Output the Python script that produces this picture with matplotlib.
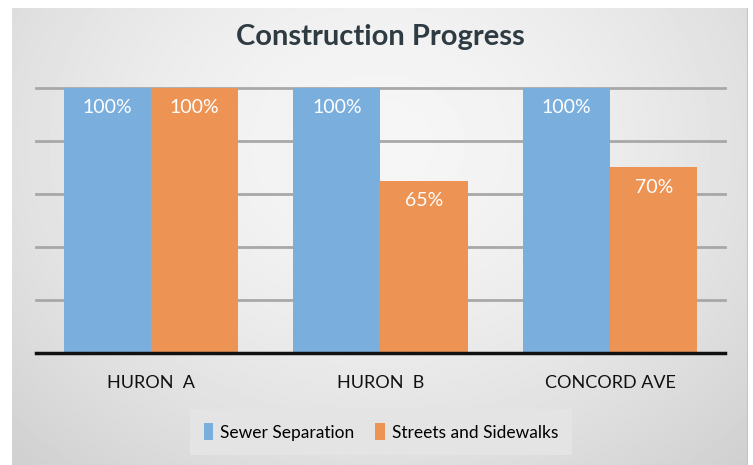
import matplotlib.pyplot as plt
import numpy as np

# data
categories = ['HURON  A', 'HURON  B', 'CONCORD AVE']
sewer = [100, 100, 100]
streets = [100, 65, 70]
series_names = ['Sewer Separation', 'Streets and Sidewalks']
colors = ['#7aafdd', '#ed9455']

plt.rcParams['font.family'] = ['Lato', 'DejaVu Sans']

W, H = 753, 465
fig = plt.figure(figsize=(W / 100, H / 100), dpi=100)

# radial grey background panel
bg = fig.add_axes([12 / W, 0, 736 / W, 1 - 8 / H])
bg.set_axis_off()
yy, xx = np.mgrid[0:1:300j, 0:1:500j]
r = np.sqrt(((xx - 0.5) / 0.75) ** 2 + ((yy - 0.3) / 1.0) ** 2)
shade = np.clip(0.965 - 0.16 * r ** 1.6, 0.80, 0.97)
bg.imshow(shade, cmap='gray', vmin=0, vmax=1, aspect='auto',
          extent=[0, 1, 1, 0], interpolation='bilinear')
bg.axvline(1, color='#c4c4c4', lw=1.5)

ax = fig.add_axes([36 / W, 1 - 353 / H, 689 / W, (353 - 88) / H])
ax.patch.set_alpha(0)
x = np.arange(len(categories)) + 0.5
bw = 0.38
b1 = ax.bar(x - bw / 2, sewer, bw, color=colors[0], label=series_names[0], zorder=3)
b2 = ax.bar(x + bw / 2, streets, bw, color=colors[1], label=series_names[1], zorder=3)

for bars in (b1, b2):
    for rect in bars:
        v = rect.get_height()
        ax.text(rect.get_x() + rect.get_width() / 2, v - 7.5, f'{v:g}%',
                ha='center', va='center', color='white', fontsize=14,
                zorder=4)

ax.set_xlim(0, 3)
ax.set_ylim(0, 100)
for g in [20, 40, 60, 80, 100]:
    ax.axhline(g, color='#a8a8a8', lw=2, zorder=1, clip_on=False)
ax.axhline(0, color='#111111', lw=2.5, zorder=5, clip_on=False)
for s in ax.spines.values():
    s.set_visible(False)
ax.set_yticks([])
ax.set_xticks(x)
ax.set_xticklabels(categories, fontsize=13, color='#111111')
ax.tick_params(axis='x', length=0, pad=16)

fig.text(380 / W, 1 - 37 / H, 'Construction Progress', ha='center', va='center',
         fontsize=21, fontweight='bold', color='#2e3b42')

leg = fig.legend(loc='center', bbox_to_anchor=(381 / W, 1 - 432 / H), ncol=2,
                 frameon=True, facecolor='#e4e4e4', edgecolor='none',
                 fontsize=12.5, handlelength=0.55, handleheight=1.1,
                 handletextpad=0.4, columnspacing=1.2, borderpad=0.8,
                 fancybox=False)
leg.get_frame().set_alpha(1)

fig.savefig('out.png', dpi=100)
